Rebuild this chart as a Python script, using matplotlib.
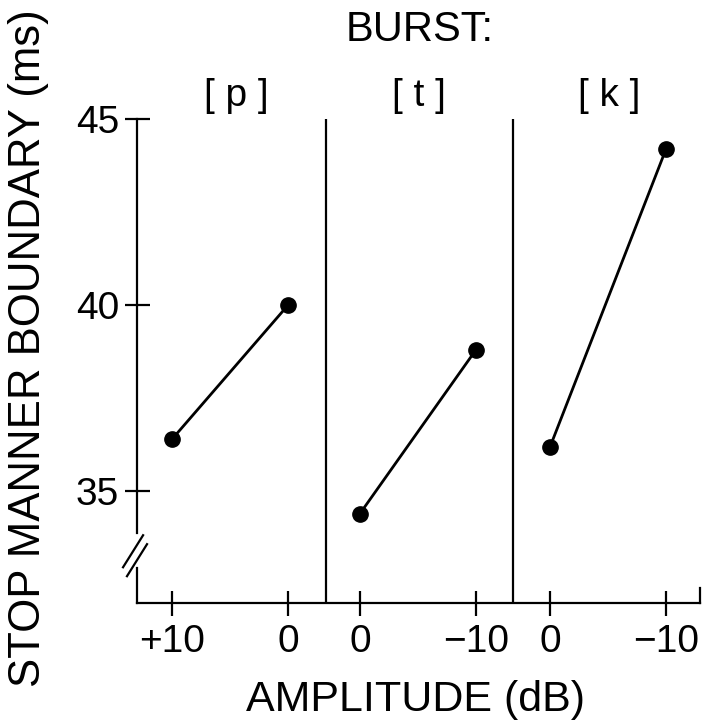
"""
plot.py
Stop-manner boundary (ms) vs burst amplitude (dB) for the three bursts [p] [t] [k].
"""
import matplotlib

matplotlib.use("Agg")
import matplotlib.pyplot as plt
from matplotlib.transforms import blended_transform_factory

plt.rcParams["font.family"] = ["Liberation Sans", "DejaVu Sans"]

# ── data ─────────────────────────────────────────────────────────────────
bursts = ["[ p ]", "[ t ]", "[ k ]"]
amp_p = [10, 0]
amp_t = [0, -10]
amp_k = [0, -10]
boundary_p = [36.4, 40.0]
boundary_t = [34.4, 38.8]
boundary_k = [36.2, 44.2]
tick_labels = ["+10", "0", "0", "\u221210", "0", "\u221210"]
y_ticks = [35, 40, 45]

# layout: each panel spans 10 dB = 1 unit on a shared x axis
PANEL_START = [0.0, 1.62, 3.26]
SEPARATORS = [1.33, 2.94]
XLIM = (-0.302, 4.552)
YLIM = (32.0, 45.0)

W, H = 703, 726
fig = plt.figure(figsize=(W / 100, H / 100), dpi=100)
ax = fig.add_axes([137 / W, 1 - 603 / H, 563 / W, (603 - 119) / H])
ax.set_xlim(*XLIM)
ax.set_ylim(*YLIM)

xticks = []
for start, amps, vals in zip(PANEL_START,
                             [amp_p, amp_t, amp_k],
                             [boundary_p, boundary_t, boundary_k]):
    xs = [start + (amps[0] - a) / 10 for a in amps]
    xticks.extend(xs)
    ax.plot(xs, vals, color="black", lw=2.0, marker="o", ms=11,
            solid_capstyle="butt", zorder=3)

for sx in SEPARATORS:
    ax.vlines(sx, YLIM[0], YLIM[1], color="black", lw=1.6)

# spines: broken left axis, bottom axis with a small stub on the right
ax.spines["top"].set_visible(False)
ax.spines["left"].set_bounds(33.87, 45)
ax.spines["right"].set_bounds(32.0, 32.4)
for s in ("left", "bottom", "right"):
    ax.spines[s].set_linewidth(1.6)

ax.plot([0, 0], [32.0, 32.93], color="black", lw=1.6,
        transform=blended_transform_factory(ax.transAxes, ax.transData),
        clip_on=False)
tr = blended_transform_factory(ax.transAxes, ax.transData)
for cx, cy in [(-0.007, 33.39), (0.0, 33.15)]:
    ax.plot([cx - 0.0178, cx + 0.0178], [cy - 0.43, cy + 0.43],
            color="black", lw=1.6, transform=tr, clip_on=False)

ax.set_xticks(xticks)
ax.set_xticklabels(tick_labels)
ax.set_yticks(y_ticks)
ax.tick_params(axis="both", direction="inout", length=18, width=1.6,
               labelsize=28)
ax.tick_params(axis="x", pad=6)
ax.tick_params(axis="y", pad=4)
ax.tick_params(axis="y", which="both", right=False)

# titles and axis labels
fig.text(420 / W, 1 - 30 / H, "BURST:", fontsize=30, ha="center", va="center")
for name, cx in zip(bursts, [236, 419, 609]):
    fig.text(cx / W, 1 - 96 / H, name, fontsize=28, ha="center", va="center")

fig.text(416 / W, 1 - 700 / H, "AMPLITUDE (dB)", fontsize=31,
         ha="center", va="center")
fig.text(29 / W, 1 - 348 / H, "STOP MANNER BOUNDARY (ms)", fontsize=31.5,
         rotation=90, ha="center", va="center")

fig.savefig("out.png", dpi=100)
